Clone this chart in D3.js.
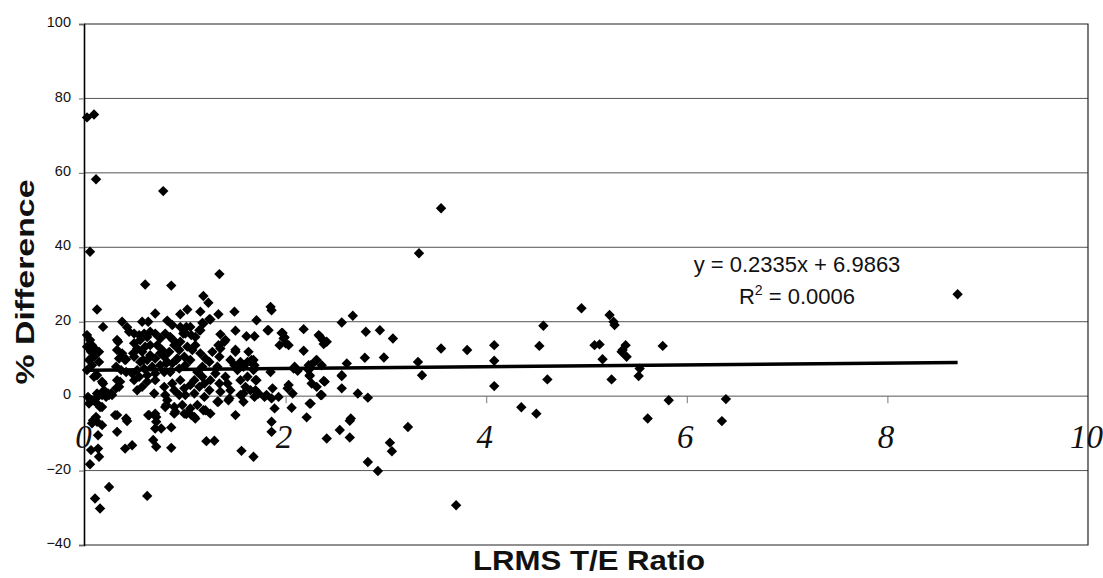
<!DOCTYPE html>
<html>
<head>
<meta charset="utf-8">
<script src="https://cdn.jsdelivr.net/npm/d3@7"></script>
<style>
    body { margin: 0; background: #fff; }
</style>
</head>
<body>
<div id="chart"></div>
<script>
// [LRMS T/E ratio, % difference]
var outlierPts = [
    [0.02, 74.9], [0.09, 75.7], [0.11, 58.3], [0.78, 55.1], [0.05, 38.8], [3.55, 50.5], [3.33, 38.4],
    [0.60, 30.0], [0.86, 29.7], [1.34, 32.8], [1.18, 26.9], [1.23, 25.1], [8.70, 27.4],
    [0.10, -27.5], [0.15, -30.2], [0.24, -24.4], [0.62, -26.8], [3.70, -29.3], [2.92, -20.1],
    [2.82, -17.7], [0.05, -18.3], [1.68, -16.3]
];

var leftPts = [
    [0.12, 23.3], [0.18, 18.6], [0.37, 20.0], [0.42, 18.5], [0.33, 14.6], [0.40, 9.7],
    [0.02, 16.4], [0.05, 15.1], [0.07, 13.7], [0.02, 13.3], [0.11, 12.4], [0.06, 11.9], [0.14, 11.9],
    [0.09, 10.6], [0.04, 9.7], [0.14, 9.2], [0.07, 8.3], [0.02, 7.0], [0.12, 5.6], [0.09, 5.2],
    [0.17, 3.9], [0.19, 1.6], [0.14, 0.3], [0.11, -0.6], [0.06, -1.1], [0.04, -2.0], [0.12, -2.0],
    [0.17, -2.9], [0.11, -5.6], [0.32, 15.1], [0.32, 12.4], [0.37, 11.5], [0.41, 9.9], [0.34, 10.1],
    [0.31, 7.9], [0.36, 7.0], [0.41, 6.5], [0.32, 4.3], [0.34, 2.5], [0.31, 2.1], [0.26, 0.7],
    [0.32, -5.1], [0.41, -6.0], [0.24, 0.3], [0.21, -0.2], [0.18, 3.4], [0.35, 3.9], [0.03, -0.2],
    [0.12, 0.7], [0.17, 0.3], [0.23, 0.7], [0.27, 0.3], [0.08, -1.1], [0.15, -2.9],
    [0.08, -6.5], [0.12, -6.9], [0.07, -7.3], [0.17, -7.8], [0.13, -10.5], [0.06, -14.5],
    [0.13, -14.1], [0.14, -16.3], [0.30, -5.1], [0.42, -6.7], [0.32, -9.6], [0.40, -14.1], [0.47, -13.2]
];

var midPts = [
    [0.44, 17.3], [0.49, 16.8], [0.54, 16.4], [0.59, 16.8], [0.65, 17.3], [0.70, 16.8], [0.75, 15.5],
    [0.49, 14.2], [0.55, 15.1], [0.52, 12.8], [0.60, 13.3], [0.65, 13.7], [0.72, 13.7], [0.77, 12.4],
    [0.57, 11.9], [0.65, 11.0], [0.49, 10.6], [0.55, 9.2], [0.62, 9.7], [0.70, 10.1], [0.79, 10.6],
    [0.84, 11.9], [0.89, 13.7], [0.94, 12.4], [0.99, 10.6], [0.92, 10.1], [0.87, 8.8], [0.82, 9.2],
    [0.75, 8.3], [0.67, 7.9], [0.59, 7.4], [0.52, 7.0], [0.47, 6.1], [0.54, 5.2], [0.62, 5.6],
    [0.70, 6.1], [0.79, 6.5], [0.85, 6.5], [0.94, 7.4], [1.00, 8.3], [1.05, 9.7], [1.07, 12.4],
    [1.10, 13.7], [1.02, 13.3], [0.95, 14.6], [0.85, 15.9], [0.80, 16.8],
    [0.49, 4.3], [0.57, 2.5], [0.52, 1.6], [0.62, 3.9], [0.70, 4.3], [0.69, 0.7], [0.79, 2.5],
    [0.80, 0.3], [0.87, 3.4], [0.89, 1.6], [0.95, 4.3], [0.99, 2.1], [0.94, 0.3], [1.00, 0.3],
    [1.05, 3.0], [1.09, 4.3], [1.14, 2.5], [1.09, 0.7], [1.17, 5.2], [1.19, 3.4], [1.24, 1.6],
    [1.19, -0.2], [1.25, 4.3], [1.30, 6.1], [1.34, 3.4], [1.35, 1.2], [1.32, -1.5], [1.42, 3.4],
    [1.45, 1.6], [1.44, -0.6], [1.40, 5.2], [1.32, 7.9], [1.34, 10.6], [1.35, 12.8], [1.39, 14.6],
    [1.27, 11.9], [1.24, 9.2], [1.17, 7.9], [1.12, 6.5], [1.20, 10.1], [1.15, 11.5], [1.45, 9.7],
    [1.49, 8.3], [1.52, 7.0], [1.55, 9.2], [1.50, 11.9], [1.58, 8.3], [1.65, 9.2], [1.63, 11.9],
    [1.68, 7.0], [1.62, 5.2], [1.55, 4.3], [1.60, 2.5], [1.65, 1.6], [1.70, 4.3], [1.55, 0.3],
    [0.89, -2.9], [0.80, -2.9], [0.97, -2.4], [1.05, -3.3], [1.12, -2.4], [1.20, -3.8], [0.99, -4.7],
    [1.09, -5.6], [0.89, -4.7], [0.70, -4.7], [0.64, -5.1], [0.82, -1.1],
    [0.63, -5.1], [0.71, -5.6], [0.71, -6.9], [0.70, -8.7], [0.76, -8.7], [0.86, -8.4], [0.68, -11.8],
    [0.71, -13.6], [0.86, -13.9], [1.21, -12.1], [1.29, -12.0], [1.56, -14.7], [0.81, -2.4],
    [0.90, -4.2], [1.01, -4.8], [1.10, -6.0], [1.06, -5.1], [1.18, -3.8], [1.25, -4.7], [1.33, -1.5],
    [1.43, -1.1], [1.50, -5.1], [1.58, -1.5],
    [0.57, 20.0], [0.63, 20.0], [0.70, 22.2], [0.82, 20.3], [0.87, 19.1], [0.95, 18.6], [0.99, 17.3],
    [1.05, 18.6], [1.00, 16.8], [1.06, 16.4], [0.95, 22.0], [1.02, 23.3], [1.15, 22.7], [1.17, 19.7],
    [1.14, 17.7], [1.33, 22.0], [1.24, 20.7], [1.35, 16.6], [1.50, 17.6], [1.61, 16.1], [1.69, 16.1],
    [1.49, 22.7], [1.71, 20.4], [1.85, 24.0], [1.86, 23.1], [1.25, 20.6], [1.18, 19.5], [1.15, 17.7],
    [1.40, 15.1], [1.33, 13.7], [1.01, 18.6], [0.98, 16.8], [1.10, 15.9], [0.88, 15.1], [0.62, 15.9],
    [0.48, 11.5], [0.58, 9.7], [0.75, 11.5], [0.81, 8.8], [0.91, 9.7]
];

var rightMidPts = [
    [1.82, 17.7], [1.97, 17.0], [1.98, 15.5], [1.94, 13.7], [2.00, 14.2], [2.18, 18.0], [2.33, 16.4],
    [2.37, 15.1], [2.41, 14.6], [2.56, 19.8], [2.67, 21.6], [2.80, 17.3], [2.94, 17.7], [3.07, 15.5],
    [2.98, 10.4], [2.79, 10.3], [2.61, 8.8], [2.56, 5.4], [2.56, 2.1], [2.72, 0.7], [2.82, -0.4],
    [2.35, 0.3], [2.38, 4.1], [2.31, 2.5], [2.30, 9.5], [2.25, 8.3], [2.23, 7.0], [2.24, 5.4],
    [2.08, 7.4], [2.12, 6.8], [2.18, 12.2], [2.02, 2.1], [2.07, 0.7], [2.06, -3.1], [2.25, -2.0],
    [2.21, -5.7], [2.65, -6.0], [1.89, -3.3], [1.87, 2.1], [1.81, 0.3], [1.86, -0.6], [1.70, 1.6],
    [1.69, -0.2], [1.58, 0.7], [1.85, 6.5], [1.66, 9.7], [1.62, 9.2], [1.58, 7.9], [1.52, 7.4],
    [1.50, 12.5], [1.68, 9.7], [1.69, 8.3], [1.71, 4.3], [1.73, 0.7], [1.79, -0.2], [1.93, -0.2],
    [1.86, -6.9], [1.86, -9.6], [2.03, 3.0], [2.09, 7.9], [2.23, 8.3], [2.24, 5.6], [2.26, 3.4],
    [2.31, 9.7], [2.36, 8.3], [2.39, 3.9], [2.36, 0.3], [2.24, -2.0], [2.41, -11.4], [2.54, -9.1],
    [2.64, -6.6], [2.64, -11.1], [2.56, 5.6], [3.22, -8.3], [3.04, -12.5], [3.06, -14.8],
    [2.34, 16.1], [2.39, 14.6], [2.38, 14.0], [2.03, 13.7], [1.99, 15.8], [1.83, 17.7], [1.96, 17.0]
];

var farPts = [
    [3.32, 9.2], [3.36, 5.6], [3.55, 12.8], [3.81, 12.4], [4.08, 13.7], [4.08, 9.5], [4.08, 2.7],
    [4.35, -3.0], [4.50, -4.7], [4.61, 4.5], [4.53, 13.5], [4.57, 18.9], [4.95, 23.6], [5.23, 21.8],
    [5.27, 20.0], [5.28, 19.1], [5.08, 13.7], [5.13, 13.9], [5.16, 9.9], [5.36, 12.4], [5.39, 13.7],
    [5.35, 11.9], [5.40, 10.6], [5.76, 13.5], [5.25, 4.5], [5.53, 7.4], [5.52, 5.4], [5.82, -1.1],
    [5.61, -6.0], [6.39, -0.8], [6.35, -6.7]
];

var yTicks = [-40, -20, 0, 20, 40, 60, 80, 100];
var xTicks = [0, 2, 4, 6, 8, 10];
var trendSlope = 0.2335, trendIntercept = 6.9863;
var eqText = "y = 0.2335x + 6.9863";
var r2Value = "0.0006";
var xTitle = "LRMS T/E Ratio", yTitle = "% Difference";

var WIDTH = 1103, HEIGHT = 578;
var allPts = [].concat(outlierPts, leftPts, midPts, rightMidPts, farPts);

var x = d3.scaleLinear().domain([0, 10]).range([85, 1088]);
var y = d3.scaleLinear().domain([-40, 100]).range([545, 24]);

var svg = d3.select("#chart").append("svg")
    .attr("width", WIDTH)
    .attr("height", HEIGHT)
    .style("font-family", "'Liberation Sans', Arial, sans-serif");

// horizontal gridlines
svg.append("g").selectAll("line")
    .data(yTicks.filter(function (d) { return d > -40 && d < 100; }))
    .enter().append("line")
    .attr("x1", x(0) - 1).attr("x2", x(10))
    .attr("y1", function (d) { return y(d); })
    .attr("y2", function (d) { return y(d); })
    .attr("stroke", "#555")
    .attr("stroke-width", 1);

// plot frame (top, right, bottom)
svg.append("path")
    .attr("d", "M" + (x(0) - 1) + "," + y(100) + "H" + x(10) + "V" + y(-40) + "H" + (x(0) - 1))
    .attr("fill", "none")
    .attr("stroke", "#222")
    .attr("stroke-width", 1.2);

// y axis
var yAxis = svg.append("g")
    .attr("transform", "translate(" + (x(0) - 1) + ",0)")
    .call(d3.axisLeft(y).tickValues(yTicks).tickSize(5).tickPadding(8).tickFormat(d3.format("d")));
yAxis.select(".domain").attr("stroke", "#000").attr("stroke-width", 1.6);
yAxis.selectAll(".tick line").attr("stroke", "#666");
yAxis.selectAll(".tick text")
    .attr("dy", "0.18em")
    .style("font-size", "14.5px")
    .attr("fill", "#111");

// x ticks sit on the zero line, labels below in italic serif
var xAxis = svg.append("g")
    .attr("transform", "translate(0," + y(0) + ")")
    .call(d3.axisBottom(x).tickValues(xTicks).tickSize(7).tickFormat(d3.format("d")));
xAxis.select(".domain").remove();
xAxis.selectAll(".tick line")
    .attr("stroke", "#777")
    .attr("opacity", function (d) { return d > 0 && d < 10 ? 1 : 0; });
xAxis.selectAll(".tick text")
    .attr("x", -2)
    .attr("y", 52)
    .attr("dy", null)
    .style("font-family", "'Liberation Serif', 'Times New Roman', serif")
    .style("font-style", "italic")
    .style("font-size", "33px")
    .attr("fill", "#111");

// points
var diamond = "M0,-5.2L5.2,0L0,5.2L-5.2,0Z";
svg.append("g").selectAll("path")
    .data(allPts)
    .enter().append("path")
    .attr("d", diamond)
    .attr("transform", function (d) { return "translate(" + x(d[0]) + "," + y(d[1]) + ")"; })
    .attr("fill", "#000");

// linear trendline across the data range
var xr = d3.extent(allPts, function (d) { return d[0]; });
svg.append("line")
    .attr("x1", x(xr[0])).attr("x2", x(xr[1]))
    .attr("y1", y(trendSlope * xr[0] + trendIntercept))
    .attr("y2", y(trendSlope * xr[1] + trendIntercept))
    .attr("stroke", "#000")
    .attr("stroke-width", 3.5);

// equation label
svg.append("text")
    .attr("x", 797).attr("y", 272)
    .attr("text-anchor", "middle")
    .style("font-size", "22px")
    .attr("fill", "#111")
    .text(eqText);

var r2 = svg.append("text")
    .attr("x", 797).attr("y", 304)
    .attr("text-anchor", "middle")
    .style("font-size", "22px")
    .attr("fill", "#111");
r2.append("tspan").text("R");
r2.append("tspan").attr("dy", -9).style("font-size", "14px").text("2");
r2.append("tspan").attr("dy", 9).text(" = " + r2Value);

// axis titles
svg.append("text")
    .attr("transform", "translate(34,282)rotate(-90)")
    .attr("text-anchor", "middle")
    .attr("textLength", 205)
    .attr("lengthAdjust", "spacingAndGlyphs")
    .style("font-size", "25px")
    .style("font-weight", "bold")
    .attr("fill", "#111")
    .text(yTitle);

svg.append("text")
    .attr("x", 589).attr("y", 570)
    .attr("text-anchor", "middle")
    .attr("textLength", 232)
    .attr("lengthAdjust", "spacingAndGlyphs")
    .style("font-size", "28px")
    .style("font-weight", "bold")
    .attr("fill", "#111")
    .text(xTitle);
</script>
</body>
</html>
